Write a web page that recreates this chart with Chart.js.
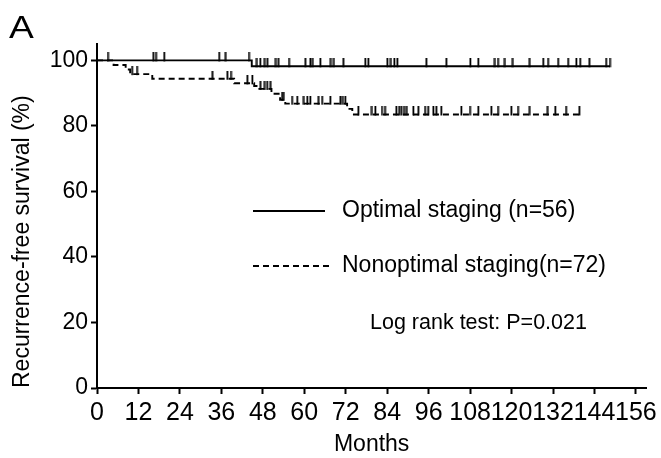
<!DOCTYPE html>
<html>
<head>
<meta charset="utf-8">
<title>Recurrence-free survival</title>
<script src="https://cdn.jsdelivr.net/npm/chart.js@4.4.1/dist/chart.umd.min.js"></script>
<style>
  html, body { margin: 0; padding: 0; background: #fff; }
  #wrap { width: 661px; height: 458px; }
</style>
</head>
<body>
<div id="wrap"><canvas id="km" width="661" height="458"></canvas></div>
<script>
// Axis ticks
const xTickMonths = [0, 12, 24, 36, 48, 60, 72, 84, 96, 108, 120, 132, 144, 156];
const yTickValues = [0, 20, 40, 60, 80, 100];

// Optimal staging (n=56): event times (months) and survival (%) after each step
const optimalEventMonths = [44.8];
const optimalSurvival = [100, 98.2];
const optimalLastMonth = 148.5;
const optimalCensoredMonths = [3.2, 16.4, 17.1, 19.5, 35.4, 37.3, 44.0, 46.3, 47.3, 48.6, 49.4,
  51.8, 52.6, 55.6, 60.4, 61.8, 62.5, 64.7, 67.7, 68.6, 71.4, 77.7, 78.6, 84.1, 85.1, 86.1, 87.0,
  95.4, 101.2, 108.1, 110.4, 115.2, 116.1, 118.1, 120.4, 125.3, 129.2, 130.6, 133.5, 136.4,
  138.8, 139.9, 142.6, 147.4, 148.5];

// Nonoptimal staging (n=72)
const nonoptimalEventMonths = [4.8, 8.3, 9.6, 16.0, 39.7, 45.5, 47.0, 50.5, 53.0, 54.5, 72.4, 73.9];
const nonoptimalSurvival = [100, 98.6, 97.2, 95.8, 94.4, 93.0, 92.2, 91.3, 89.8, 88.0, 86.8, 85.2, 83.5];
const nonoptimalLastMonth = 140.0;
const nonoptimalCensoredMonths = [10.2, 11.6, 33.5, 37.8, 38.8, 43.6, 45.0, 47.4, 48.6, 49.3, 50.3,
  53.6, 54.1, 56.5, 58.0, 59.9, 60.9, 61.8, 64.2, 65.2, 67.6, 70.5, 71.2, 71.9, 75.7, 79.6, 80.6,
  82.5, 83.4, 86.7, 87.5, 88.2, 88.9, 89.7, 91.6, 93.1, 95.0, 95.9, 97.4, 98.3, 99.7, 105.5, 108.0,
  110.4, 114.2, 116.1, 120.0, 121.9, 125.3, 130.5, 132.7, 135.8, 139.7];

const legendLabels = ['Optimal staging (n=56)', 'Nonoptimal staging(n=72)'];
const testLabel = 'Log rank test: P=0.021';
const panelLetter = 'A';

// ---- helpers ----
function stepPoints(eventMonths, survival, lastMonth) {
  const pts = [{ x: 0, y: survival[0] }];
  eventMonths.forEach((t, i) => pts.push({ x: t, y: survival[i + 1] }));
  pts.push({ x: lastMonth, y: survival[survival.length - 1] });
  return pts;
}
function survivalAt(t, eventMonths, survival) {
  let s = survival[0];
  eventMonths.forEach((e, i) => { if (e <= t) s = survival[i + 1]; });
  return s;
}
function censorPoints(censored, eventMonths, survival) {
  return censored.map(t => ({ x: t, y: survivalAt(t, eventMonths, survival) }));
}

// Upward censor tick: image centred on the point, ink only in the top half
function makeTick(h) {
  const c = document.createElement('canvas');
  c.width = 3; c.height = h * 2;
  const g = c.getContext('2d');
  g.fillStyle = '#000';
  g.fillRect(0.5, 0, 1.8, h + 1);
  return c;
}
const tickImg = makeTick(8);

const FAMILY = "'Liberation Sans', Arial, sans-serif";

const annotations = {
  id: 'annotations',
  afterDraw(chart) {
    const { ctx, chartArea } = chart;
    const L = chartArea.left, T = chartArea.top;
    ctx.save();
    ctx.fillStyle = '#000';
    ctx.strokeStyle = '#000';

    // panel letter
    ctx.save();
    ctx.translate(9, 38);
    ctx.scale(1.2, 1);
    ctx.font = '31px ' + FAMILY;
    ctx.textAlign = 'left';
    ctx.textBaseline = 'alphabetic';
    ctx.fillText(panelLetter, 0, 0);
    ctx.restore();

    // legend
    ctx.lineWidth = 1.9;
    const y1 = T + 167, y2 = T + 222;
    ctx.beginPath(); ctx.moveTo(L + 156, y1); ctx.lineTo(L + 228, y1); ctx.stroke();
    ctx.setLineDash([6, 4]);
    ctx.beginPath(); ctx.moveTo(L + 156, y2); ctx.lineTo(L + 233, y2); ctx.stroke();
    ctx.setLineDash([]);
    ctx.font = '23px ' + FAMILY;
    ctx.textAlign = 'left';
    ctx.textBaseline = 'middle';
    ctx.fillText(legendLabels[0], L + 245, y1);
    ctx.fillText(legendLabels[1], L + 245, y2);
    ctx.font = '21.5px ' + FAMILY;
    ctx.fillText(testLabel, L + 273, T + 279);
    ctx.restore();
  }
};

new Chart(document.getElementById('km'), {
  type: 'line',
  data: {
    datasets: [
      {
        data: stepPoints(optimalEventMonths, optimalSurvival, optimalLastMonth),
        stepped: 'before', borderColor: '#000', borderWidth: 1.9, pointRadius: 0, fill: false
      },
      {
        data: stepPoints(nonoptimalEventMonths, nonoptimalSurvival, nonoptimalLastMonth),
        stepped: 'before', borderColor: '#000', borderWidth: 1.9, borderDash: [6, 4],
        pointRadius: 0, fill: false
      },
      {
        type: 'scatter',
        data: censorPoints(optimalCensoredMonths, optimalEventMonths, optimalSurvival),
        pointStyle: tickImg, pointRadius: 3, showLine: false
      },
      {
        type: 'scatter',
        data: censorPoints(nonoptimalCensoredMonths, nonoptimalEventMonths, nonoptimalSurvival),
        pointStyle: tickImg, pointRadius: 3, showLine: false
      }
    ]
  },
  options: {
    responsive: false,
    animation: false,
    events: [],
    layout: { padding: { top: 44, right: 12, bottom: 0, left: 0 } },
    plugins: { legend: { display: false }, tooltip: { enabled: false } },
    scales: {
      x: {
        type: 'linear', min: 0, max: 159,
        afterBuildTicks: s => { s.ticks = xTickMonths.map(v => ({ value: v })); },
        afterFit: s => { s.height = 70; },
        ticks: { color: '#000', font: { family: FAMILY, size: 25 }, padding: 4,
                 autoSkip: false, maxRotation: 0, minRotation: 0 },
        grid: { display: true, drawOnChartArea: false, drawTicks: true, tickLength: 6,
                tickWidth: 2, color: '#000' },
        border: { display: true, color: '#000', width: 2 },
        title: { display: true, text: 'Months', color: '#000',
                 font: { family: FAMILY, size: 23 }, padding: { top: 2, bottom: 0 } }
      },
      y: {
        type: 'linear', min: 0, max: 105,
        afterBuildTicks: s => { s.ticks = yTickValues.map(v => ({ value: v })); },
        afterFit: s => { s.width = 97; },
        ticks: { color: '#000', font: { family: FAMILY, size: 23 }, padding: 3 },
        grid: { display: true, drawOnChartArea: false, drawTicks: true, tickLength: 6,
                tickWidth: 2, color: '#000' },
        border: { display: true, color: '#000', width: 2 },
        title: { display: true, text: 'Recurrence-free survival (%)', align: 'start', color: '#000',
                 font: { family: FAMILY, size: 23 }, padding: { top: 9, bottom: 0 } }
      }
    }
  },
  plugins: [annotations]
});
</script>
</body>
</html>
